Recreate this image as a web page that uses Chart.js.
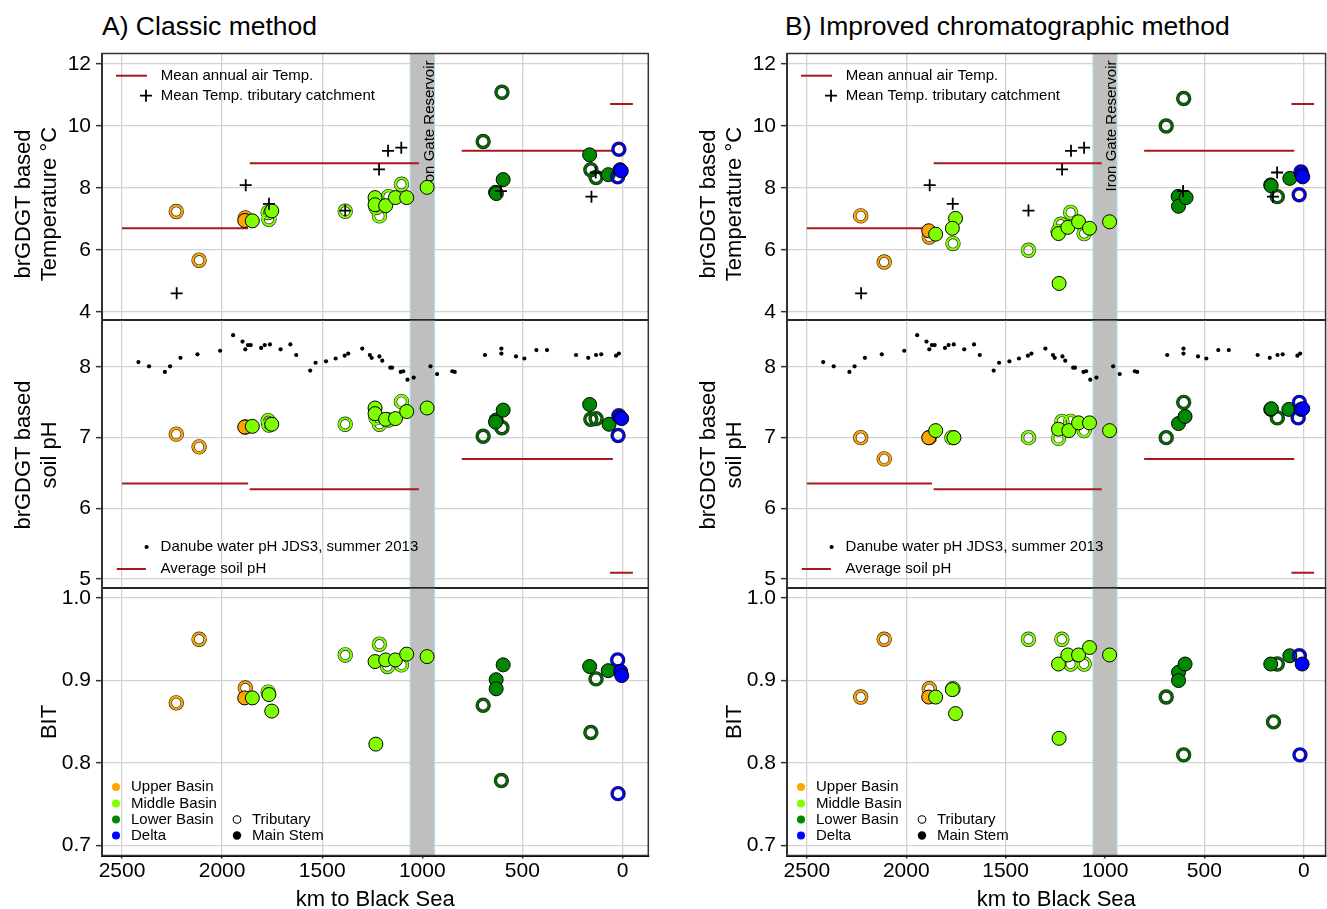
<!DOCTYPE html>
<html><head><meta charset="utf-8">
<script src="https://cdn.jsdelivr.net/npm/chart.js@4.4.1/dist/chart.umd.min.js"></script>
<style>
html,body{margin:0;padding:0;background:#fff;overflow:hidden;width:1327px;height:909px;}
#wrap{position:relative;width:1327px;height:909px;overflow:hidden;background:#fff;}
canvas{position:absolute;}
.title{position:absolute;font-family:'Liberation Sans',Arial,Helvetica,sans-serif;font-size:26.5px;color:#000;white-space:nowrap;line-height:26px;}
</style></head><body><div id="wrap">
<div class="title" style="left:102px;top:13px">A) Classic method</div>
<div class="title" style="left:785px;top:13px">B) Improved chromatographic method</div>
</div>
<script>
// ---------------- DATA ----------------
const X_TICKS = [2500, 2000, 1500, 1000, 500, 0];
const TEMP_TICKS = [4, 6, 8, 10, 12];
const PH_TICKS = [5, 6, 7, 8];
const BIT_TICKS = [0.7, 0.8, 0.9, 1.0];
const RESERVOIR_KM = [1060, 940];

// [km start, km end, value]
const AIR_TEMP_SEGMENTS = [[2500, 1870, 6.70], [1862, 1017, 8.80], [803, 48, 9.20], [62, -52, 10.71]];
const SOIL_PH_SEGMENTS = [[2500, 1870, 6.35], [1862, 1017, 6.27], [803, 48, 6.70], [62, -52, 5.09]];

// [km, mean temperature of tributary catchment]
const CATCHMENT_TEMP = [[2227, 4.6], [1882, 8.09], [1766, 7.49], [1385, 7.27], [1216, 8.60], [1171, 9.20], [1105, 9.30], [607, 7.90], [155, 7.72], [134, 8.50]];

// [km, Danube water pH JDS3]
const DANUBE_PH = [[2418, 8.07], [2365, 8.01], [2286, 7.93], [2260, 8.01], [2208, 8.13], [2123, 8.18], [2010, 8.23], [1945, 8.45], [1898, 8.36], [1884, 8.25], [1871, 8.31], [1857, 8.31], [1805, 8.27], [1787, 8.31], [1761, 8.32], [1708, 8.25], [1659, 8.32], [1630, 8.17], [1560, 7.95], [1533, 8.06], [1481, 8.08], [1433, 8.12], [1388, 8.16], [1370, 8.19], [1300, 8.26], [1262, 8.17], [1253, 8.13], [1214, 8.15], [1200, 8.09], [1160, 7.99], [1151, 7.99], [1108, 7.93], [1095, 7.94], [1074, 7.82], [1043, 7.85], [959, 8.01], [926, 7.90], [850, 7.94], [838, 7.93], [687, 8.17], [605, 8.26], [605, 8.19], [532, 8.15], [490, 8.12], [430, 8.24], [377, 8.24], [232, 8.17], [171, 8.13], [132, 8.17], [106, 8.18], [32, 8.16], [18, 8.19]];

// samples: [km, value, basin (U upper, M middle, L lower, D delta), type (T tributary, S main stem)]
const A_TEMP = [
  [2229, 7.24, 'U', 'T'], [2115, 5.67, 'U', 'T'], [1884, 7.03, 'U', 'T'], [1887, 6.95, 'U', 'S'],
  [1849, 6.94, 'M', 'S'], [1770, 7.21, 'M', 'T'], [1766, 6.99, 'M', 'T'], [1752, 7.26, 'M', 'S'],
  [1385, 7.25, 'M', 'T'], [1236, 7.69, 'M', 'S'], [1236, 7.46, 'M', 'S'], [1231, 7.37, 'M', 'T'],
  [1214, 7.10, 'M', 'T'], [1183, 7.43, 'M', 'S'], [1169, 7.72, 'M', 'T'], [1134, 7.69, 'M', 'S'],
  [1104, 8.12, 'M', 'T'], [1078, 7.69, 'M', 'S'], [976, 8.02, 'M', 'S'],
  [696, 9.50, 'L', 'T'], [602, 11.09, 'L', 'T'], [634, 7.86, 'L', 'S'], [630, 7.82, 'L', 'S'],
  [596, 8.27, 'L', 'S'], [164, 9.07, 'L', 'S'], [158, 8.59, 'L', 'T'], [132, 8.34, 'L', 'T'],
  [71, 8.43, 'L', 'S'],
  [18, 9.25, 'D', 'T'], [24, 8.36, 'D', 'T'], [12, 8.59, 'D', 'S'], [6, 8.55, 'D', 'S']
];
const A_PH = [
  [2229, 7.05, 'U', 'T'], [2115, 6.87, 'U', 'T'], [1884, 7.15, 'U', 'T'], [1887, 7.15, 'U', 'S'],
  [1849, 7.16, 'M', 'S'], [1770, 7.24, 'M', 'T'], [1766, 7.18, 'M', 'T'], [1752, 7.19, 'M', 'S'],
  [1385, 7.19, 'M', 'T'], [1236, 7.42, 'M', 'S'], [1236, 7.34, 'M', 'S'], [1231, 7.28, 'M', 'T'],
  [1214, 7.19, 'M', 'T'], [1183, 7.26, 'M', 'S'], [1169, 7.25, 'M', 'T'], [1134, 7.27, 'M', 'S'],
  [1104, 7.51, 'M', 'T'], [1078, 7.37, 'M', 'S'], [976, 7.42, 'M', 'S'],
  [696, 7.02, 'L', 'T'], [602, 7.14, 'L', 'T'], [631, 7.25, 'L', 'S'], [634, 7.22, 'L', 'S'],
  [596, 7.39, 'L', 'S'], [164, 7.47, 'L', 'S'], [158, 7.26, 'L', 'T'], [132, 7.27, 'L', 'T'],
  [67, 7.19, 'L', 'S'],
  [18, 7.31, 'D', 'T'], [22, 7.03, 'D', 'T'], [9, 7.28, 'D', 'S'], [4, 7.27, 'D', 'S']
];
const A_BIT = [
  [2229, 0.873, 'U', 'T'], [2115, 0.950, 'U', 'T'], [1884, 0.891, 'U', 'T'], [1887, 0.879, 'U', 'S'],
  [1849, 0.879, 'M', 'S'], [1770, 0.886, 'M', 'T'], [1766, 0.883, 'M', 'S'], [1752, 0.863, 'M', 'S'],
  [1385, 0.931, 'M', 'T'], [1236, 0.923, 'M', 'S'], [1232, 0.823, 'M', 'S'], [1214, 0.944, 'M', 'T'],
  [1183, 0.925, 'M', 'S'], [1174, 0.917, 'M', 'T'], [1134, 0.925, 'M', 'S'], [1104, 0.919, 'M', 'T'],
  [1078, 0.932, 'M', 'S'], [976, 0.929, 'M', 'S'],
  [696, 0.870, 'L', 'T'], [605, 0.779, 'L', 'T'], [631, 0.901, 'L', 'S'], [631, 0.890, 'L', 'S'],
  [596, 0.919, 'L', 'S'], [164, 0.917, 'L', 'S'], [158, 0.837, 'L', 'T'], [132, 0.902, 'L', 'T'],
  [71, 0.912, 'L', 'S'],
  [24, 0.925, 'D', 'T'], [22, 0.763, 'D', 'T'], [9, 0.911, 'D', 'S'], [4, 0.906, 'D', 'S']
];
const B_TEMP = [
  [2229, 7.10, 'U', 'T'], [2111, 5.61, 'U', 'T'], [1884, 6.42, 'U', 'T'], [1887, 6.62, 'U', 'S'],
  [1852, 6.51, 'M', 'S'], [1752, 7.02, 'M', 'S'], [1768, 6.70, 'M', 'S'], [1765, 6.21, 'M', 'T'],
  [1385, 5.99, 'M', 'T'], [1234, 6.53, 'M', 'S'], [1236, 6.60, 'M', 'T'], [1222, 6.83, 'M', 'T'],
  [1231, 4.92, 'M', 'S'], [1187, 6.73, 'M', 'S'], [1173, 7.21, 'M', 'T'], [1133, 6.91, 'M', 'S'],
  [1105, 6.53, 'M', 'T'], [1078, 6.70, 'M', 'S'], [977, 6.91, 'M', 'S'],
  [692, 10.00, 'L', 'T'], [604, 10.89, 'L', 'T'], [632, 7.73, 'L', 'S'], [630, 7.41, 'L', 'S'],
  [592, 7.69, 'L', 'S'], [166, 8.10, 'L', 'S'], [164, 8.07, 'L', 'S'], [133, 7.72, 'L', 'T'],
  [70, 8.31, 'L', 'S'],
  [14, 8.52, 'D', 'T'], [23, 7.78, 'D', 'T'], [10, 8.43, 'D', 'S'], [5, 8.36, 'D', 'S']
];
const B_PH = [
  [2229, 7.00, 'U', 'T'], [2111, 6.70, 'U', 'T'], [1884, 7.00, 'U', 'T'], [1887, 7.00, 'U', 'S'],
  [1852, 7.10, 'M', 'S'], [1770, 7.00, 'M', 'T'], [1765, 7.00, 'M', 'T'], [1760, 7.00, 'M', 'S'],
  [1385, 7.00, 'M', 'T'], [1234, 7.12, 'M', 'S'], [1234, 6.99, 'M', 'T'], [1217, 7.23, 'M', 'T'],
  [1182, 7.10, 'M', 'S'], [1173, 7.23, 'M', 'T'], [1133, 7.21, 'M', 'S'], [1105, 7.10, 'M', 'T'],
  [1078, 7.21, 'M', 'S'], [977, 7.10, 'M', 'S'],
  [692, 7.00, 'L', 'T'], [604, 7.50, 'L', 'T'], [630, 7.20, 'L', 'S'], [597, 7.30, 'L', 'S'],
  [166, 7.40, 'L', 'S'], [163, 7.41, 'L', 'S'], [133, 7.28, 'L', 'T'], [75, 7.40, 'L', 'S'],
  [22, 7.50, 'D', 'T'], [28, 7.28, 'D', 'T'], [14, 7.40, 'D', 'S'], [5, 7.41, 'D', 'S']
];
const B_BIT = [
  [2229, 0.880, 'U', 'T'], [2111, 0.950, 'U', 'T'], [1884, 0.890, 'U', 'T'], [1887, 0.880, 'U', 'S'],
  [1852, 0.880, 'M', 'S'], [1765, 0.890, 'M', 'T'], [1768, 0.889, 'M', 'S'], [1752, 0.860, 'M', 'S'],
  [1385, 0.950, 'M', 'T'], [1217, 0.950, 'M', 'T'], [1234, 0.920, 'M', 'S'], [1231, 0.830, 'M', 'S'],
  [1187, 0.931, 'M', 'S'], [1173, 0.920, 'M', 'T'], [1133, 0.931, 'M', 'S'], [1105, 0.920, 'M', 'T'],
  [1078, 0.940, 'M', 'S'], [977, 0.931, 'M', 'S'],
  [692, 0.880, 'L', 'T'], [604, 0.810, 'L', 'T'], [630, 0.910, 'L', 'S'], [630, 0.900, 'L', 'S'],
  [597, 0.920, 'L', 'S'], [166, 0.920, 'L', 'S'], [133, 0.920, 'L', 'T'], [152, 0.850, 'L', 'T'],
  [70, 0.930, 'L', 'S'],
  [22, 0.930, 'D', 'T'], [19, 0.810, 'D', 'T'], [8, 0.920, 'D', 'S']
];

// ---------------- STYLE ----------------
const FONT = "'Liberation Sans', Arial, Helvetica, sans-serif";
const GRID = '#d2d2d2';
const RED = '#a81a1a';
const FILL = {U: '#FFA500', M: '#7FFF00', L: '#008800', D: '#0000FF'};
const RING = {U: '#FFA500', M: '#7FFF00', L: '#006a00', D: '#0000FF'};
const BASINS = ['U', 'M', 'L', 'D'];
const BASIN_NAMES = ['Upper Basin', 'Middle Basin', 'Lower Basin', 'Delta'];

const COLS = {
  A: {left: 0, width: 660, padR: 11.7, xMin: -129, xMax: 2600},
  B: {left: 685, width: 650, padR: 5, xMin: -110, xMax: 2600}
};
const ROWS = {
  temp: {top: 0, height: 345, padT: 53.5, padB: 25, xH: 0, yMin: 3.74, yMax: 12.34, ticks: TEMP_TICKS,
         title: ['brGDGT based', 'Temperature \u00B0C'], titleCY: 204, fmt: v => String(v)},
  ph:   {top: 295, height: 318, padT: 25, padB: 25, xH: 0, yMin: 4.873, yMax: 8.665, ticks: PH_TICKS,
         title: ['brGDGT based', 'soil pH'], titleCY: 455, fmt: v => String(v)},
  bit:  {top: 563, height: 352, padT: 25, padB: 0, xH: 59.5, yMin: 0.6881, yMax: 1.0121, ticks: BIT_TICKS,
         title: ['BIT'], titleCY: 722, fmt: v => Number(v).toFixed(1)}
};

const wrap = document.getElementById('wrap');

function xy(rows) { return rows.map(r => ({x: r[0], y: r[1]})); }

function sampleDatasets(rows) {
  const out = [];
  for (const b of BASINS) {
    const trib = xy(rows.filter(r => r[2] === b && r[3] === 'T'));
    const main = xy(rows.filter(r => r[2] === b && r[3] === 'S'));
    out.push({data: trib, pointRadius: 6, pointBorderWidth: 3.4, pointBorderColor: 'rgba(0,0,0,0.85)', pointBackgroundColor: 'rgba(0,0,0,0)'});
    out.push({data: trib, pointRadius: 6, pointBorderWidth: 2.2, pointBorderColor: RING[b], pointBackgroundColor: 'rgba(0,0,0,0)'});
    out.push({data: main, pointRadius: 7, pointBorderWidth: 1, pointBorderColor: '#000', pointBackgroundColor: FILL[b]});
  }
  return out;
}

function segmentDatasets(segs) {
  return segs.map(s => ({data: [{x: s[0], y: s[2]}, {x: s[1], y: s[2]}], showLine: true, borderColor: RED, borderWidth: 2, pointRadius: 0}));
}

function drawText(ctx, txt, x, y, size) {
  ctx.font = size + 'px ' + FONT;
  ctx.fillStyle = '#000';
  ctx.textAlign = 'left';
  ctx.textBaseline = 'middle';
  ctx.fillText(txt, x, y);
}

function makePanel(colKey, rowKey, samples) {
  const G = COLS[colKey], R = ROWS[rowKey];
  const cv = document.createElement('canvas');
  cv.width = G.width; cv.height = R.height;
  cv.style.left = G.left + 'px'; cv.style.top = R.top + 'px';
  cv.style.width = G.width + 'px'; cv.style.height = R.height + 'px';
  wrap.appendChild(cv);
  const isBottom = rowKey === 'bit';

  let ds = [];
  if (rowKey === 'temp') ds = ds.concat(segmentDatasets(AIR_TEMP_SEGMENTS));
  if (rowKey === 'ph') {
    ds = ds.concat(segmentDatasets(SOIL_PH_SEGMENTS));
    ds.push({data: xy(DANUBE_PH), pointRadius: 2.1, pointBorderWidth: 0, pointBackgroundColor: '#000'});
  }
  ds = ds.concat(sampleDatasets(samples));
  if (rowKey === 'temp') ds.push({data: xy(CATCHMENT_TEMP), pointStyle: 'cross', pointRadius: 6, pointBorderWidth: 1.8, pointBorderColor: '#000'});
  ds.forEach((d, i) => { d.order = ds.length - i; d.pointHoverRadius = d.pointRadius; });

  const deco = {
    id: 'deco',
    beforeDatasetsDraw(chart) {
      const {ctx, chartArea: ca} = chart;
      const xs = chart.scales.x;
      const x1 = xs.getPixelForValue(RESERVOIR_KM[0]), x2 = xs.getPixelForValue(RESERVOIR_KM[1]);
      ctx.save();
      ctx.fillStyle = '#bfbfbf';
      ctx.fillRect(x1, ca.top, x2 - x1, ca.bottom - ca.top);
      ctx.strokeStyle = '#add8e6';
      ctx.lineWidth = 1.3;
      ctx.beginPath();
      ctx.moveTo(x1, ca.top); ctx.lineTo(x1, ca.bottom);
      ctx.moveTo(x2, ca.top); ctx.lineTo(x2, ca.bottom);
      ctx.stroke();
      if (rowKey === 'temp') {
        ctx.translate(xs.getPixelForValue(1000) + 11.5, ca.top + 7);
        ctx.rotate(-Math.PI / 2);
        ctx.font = '15px ' + FONT;
        ctx.fillStyle = '#000';
        ctx.textAlign = 'right';
        ctx.textBaseline = 'alphabetic';
        ctx.fillText('Iron Gate Reservoir', 0, 0);
      }
      ctx.restore();
    },
    afterDraw(chart) {
      const {ctx, chartArea: ca} = chart;
      const L = ca.left, T = ca.top;
      ctx.save();
      // panel frame
      ctx.strokeStyle = '#333';
      ctx.lineWidth = 1.5;
      ctx.strokeRect(ca.left, ca.top, ca.right - ca.left, ca.bottom - ca.top);
      if (!isBottom) {
        ctx.strokeStyle = '#000';
        ctx.lineWidth = 2;
        ctx.beginPath(); ctx.moveTo(ca.left, ca.bottom); ctx.lineTo(ca.right, ca.bottom); ctx.stroke();
      }
      // legends
      if (rowKey === 'temp') {
        ctx.strokeStyle = RED; ctx.lineWidth = 2;
        ctx.beginPath(); ctx.moveTo(L + 14, T + 22.2); ctx.lineTo(L + 45, T + 22.2); ctx.stroke();
        drawText(ctx, 'Mean annual air Temp.', L + 58.7, T + 22.2, 15);
        ctx.strokeStyle = '#000'; ctx.lineWidth = 1.8;
        ctx.beginPath();
        ctx.moveTo(L + 38, T + 42.2); ctx.lineTo(L + 50, T + 42.2);
        ctx.moveTo(L + 44, T + 36.2); ctx.lineTo(L + 44, T + 48.2);
        ctx.stroke();
        drawText(ctx, 'Mean Temp. tributary catchment', L + 58.7, T + 42.2, 15);
      } else if (rowKey === 'ph') {
        ctx.fillStyle = '#000';
        ctx.beginPath(); ctx.arc(L + 44.6, T + 227, 2.1, 0, Math.PI * 2); ctx.fill();
        drawText(ctx, 'Danube water pH JDS3, summer 2013', L + 58.6, T + 227, 15);
        ctx.strokeStyle = RED; ctx.lineWidth = 2;
        ctx.beginPath(); ctx.moveTo(L + 14.8, T + 249); ctx.lineTo(L + 43.9, T + 249); ctx.stroke();
        drawText(ctx, 'Average soil pH', L + 58.6, T + 249, 15);
      } else {
        const ys = [199, 215.5, 231.5, 247.5];
        BASINS.forEach((b, i) => {
          ctx.fillStyle = FILL[b];
          ctx.beginPath(); ctx.arc(L + 14, T + ys[i], 4, 0, Math.PI * 2); ctx.fill();
          drawText(ctx, BASIN_NAMES[i], L + 29, T + ys[i], 15);
        });
        ctx.strokeStyle = '#000'; ctx.lineWidth = 1.1;
        ctx.beginPath(); ctx.arc(L + 135, T + ys[2], 3.8, 0, Math.PI * 2); ctx.stroke();
        drawText(ctx, 'Tributary', L + 150, T + ys[2], 15);
        ctx.fillStyle = '#000';
        ctx.beginPath(); ctx.arc(L + 135, T + ys[3], 4.2, 0, Math.PI * 2); ctx.fill();
        drawText(ctx, 'Main Stem', L + 150, T + ys[3], 15);
      }
      // y-axis title
      ctx.font = '22px ' + FONT;
      ctx.fillStyle = '#000';
      ctx.textAlign = 'center';
      ctx.textBaseline = 'middle';
      const xsPos = R.title.length === 2 ? [23.5, 49.5] : [49.5];
      R.title.forEach((line, i) => {
        ctx.save();
        ctx.translate(xsPos[i], R.titleCY - R.top);
        ctx.rotate(-Math.PI / 2);
        ctx.fillText(line, 0, 0);
        ctx.restore();
      });
      ctx.restore();
    }
  };

  return new Chart(cv, {
    type: 'scatter',
    data: {datasets: ds},
    options: {
      responsive: false,
      maintainAspectRatio: false,
      animation: false,
      events: [],
      layout: {padding: {left: 0, right: G.padR, top: R.padT, bottom: R.padB}},
      plugins: {legend: {display: false}, tooltip: {enabled: false}, title: {display: false}},
      scales: {
        x: {
          type: 'linear', reverse: true, min: G.xMin, max: G.xMax,
          afterBuildTicks: s => { s.ticks = X_TICKS.map(v => ({value: v})); },
          afterFit: s => { s.height = R.xH; },
          grid: {color: GRID, lineWidth: 1.3, drawTicks: isBottom, tickLength: 3, tickColor: '#222', tickWidth: 1.5},
          border: {display: isBottom, color: '#000', width: 2},
          ticks: {display: isBottom, color: '#000', font: {family: FONT, size: 21}, padding: 0, maxRotation: 0, autoSkip: false,
                  callback: v => String(v)},
          title: {display: isBottom, text: 'km to Black Sea', color: '#000', font: {family: FONT, size: 22, lineHeight: 1.2}, padding: {top: 0, bottom: 2}}
        },
        y: {
          type: 'linear', min: R.yMin, max: R.yMax,
          afterBuildTicks: s => { s.ticks = R.ticks.map(v => ({value: v})); },
          afterFit: s => { s.width = 102; },
          grid: {color: GRID, lineWidth: 1.3, tickLength: 6, tickColor: '#333', tickWidth: 1.5},
          border: {display: true, color: '#333', width: 2},
          ticks: {color: '#000', font: {family: FONT, size: 21}, padding: 5, callback: v => R.fmt(v)}
        }
      }
    },
    plugins: [deco]
  });
}

makePanel('A', 'temp', A_TEMP);
makePanel('A', 'ph', A_PH);
makePanel('A', 'bit', A_BIT);
makePanel('B', 'temp', B_TEMP);
makePanel('B', 'ph', B_PH);
makePanel('B', 'bit', B_BIT);
</script>
</body></html>
